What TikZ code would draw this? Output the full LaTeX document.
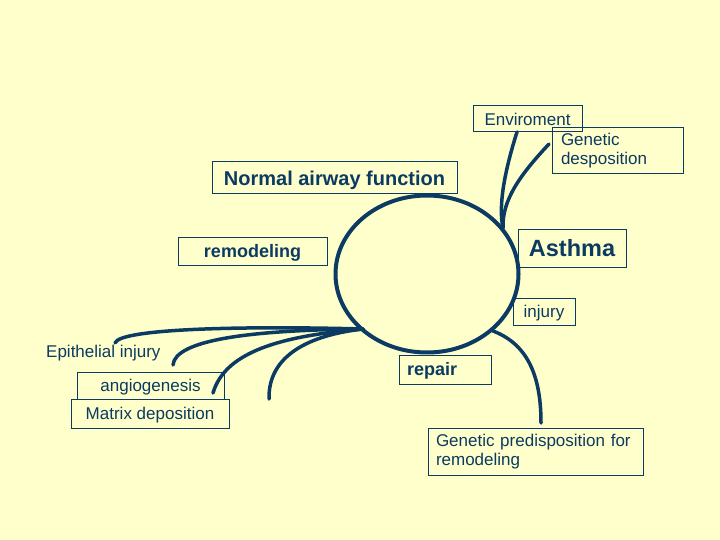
\documentclass[tikz,border=0pt]{standalone}
\usepackage{fontspec}
\setmainfont{Liberation Sans}
\usetikzlibrary{shapes.geometric,arrows.meta}
\definecolor{bgc}{HTML}{FFFFCC}
\definecolor{navy}{HTML}{0B3A62}
\begin{document}
\begin{tikzpicture}[x=1pt,y=-1pt,
  bx/.style={draw=navy, line width=1pt, inner sep=0pt, text=navy, align=center, text depth=0pt},
  bxl/.style={draw=navy, line width=1pt, inner ysep=0pt, text=navy, align=left},
  reg/.style={font=\fontsize{17}{19}\selectfont},
  bld/.style={font=\fontsize{18}{21}\selectfont\bfseries},
  link/.style={draw=navy, line width=3.5pt, line cap=round},
]
\fill[bgc] (0,0) rectangle (720,540);
\useasboundingbox (0,0) rectangle (720,540);

% central cycle
\node[draw=navy, line width=4pt, ellipse, minimum width=183pt, minimum height=157pt, inner sep=0pt] (cyc) at (427,274) {};

% boxes
\node[bx, reg, text height=12.2pt, minimum width=109pt, minimum height=26pt] (env) at (527.5,119) {Enviroment};
\node[bxl, reg, inner xsep=9pt, text width=113pt, minimum height=46pt] (gdes) at (617.5,151) {Genetic\\desposition};
\node[bx, font=\fontsize{23.5}{26}\selectfont\bfseries, text height=16.8pt, minimum width=108pt, minimum height=37pt] (asthma) at (572,248.5) {Asthma};
\node[bx, font=\fontsize{20}{23}\selectfont\bfseries, text height=14.3pt, minimum width=245pt, minimum height=32pt] (normal) at (334.5,178) {Normal airway function};
\node[bx, bld, text height=12.9pt, minimum width=149pt, minimum height=28pt] (remod) at (252.5,251) {remodeling};
\node[bx, reg, text height=12.2pt, minimum width=62pt, minimum height=27pt] (injury) at (544,311.5) {injury};
\node[bxl, bld, inner xsep=8pt, text width=76pt, minimum height=29pt, text height=12.9pt, text depth=0pt] (repair) at (445,369.5) {repair};
\node[bxl, reg, inner xsep=8pt, text width=199pt, minimum height=47pt] (gpred) at (535.5,451.5) {Genetic predisposition for\\remodeling};
\node[bx, reg, text height=12.2pt, minimum width=147pt, minimum height=27pt] (angio) at (150.5,385.5) {angiogenesis};
\node[bx, reg, text height=12.2pt, minimum width=158pt, minimum height=29pt] (matrix) at (150,413.5) {Matrix deposition};
\node[reg, text=navy, anchor=base west, inner sep=0pt] (epi) at (46,357) {Epithelial injury};

% junction and free-end coordinates
\coordinate (jtop) at (503,228);
\coordinate (jleft) at (363,329);
\coordinate (jright) at (493,331);
\coordinate (envs) at (517,132);
\coordinate (gdess) at (549,144);
\coordinate (e1) at (115,343);
\coordinate (e2) at (173,365);
\coordinate (e3) at (213,393);
\coordinate (e4) at (269,399);
\coordinate (e5) at (541,423);

% top connectors
\draw[link] (envs) .. controls (505,170) and (498,205) .. (jtop);
\draw[link] (gdess) .. controls (520,175) and (502,200) .. (jtop);
% left connectors
\draw[link] (jleft) .. controls (250,326) and (120,328) .. (e1);
\draw[link] (jleft) .. controls (250,330) and (175,340) .. (e2);
\draw[link] (jleft) .. controls (280,336) and (225,352) .. (e3);
\draw[link] (jleft) .. controls (310,335) and (268,355) .. (e4);
% bottom-right connector
\draw[link] (jright) .. controls (530,345) and (541,380) .. (e5);
\end{tikzpicture}
\end{document}
